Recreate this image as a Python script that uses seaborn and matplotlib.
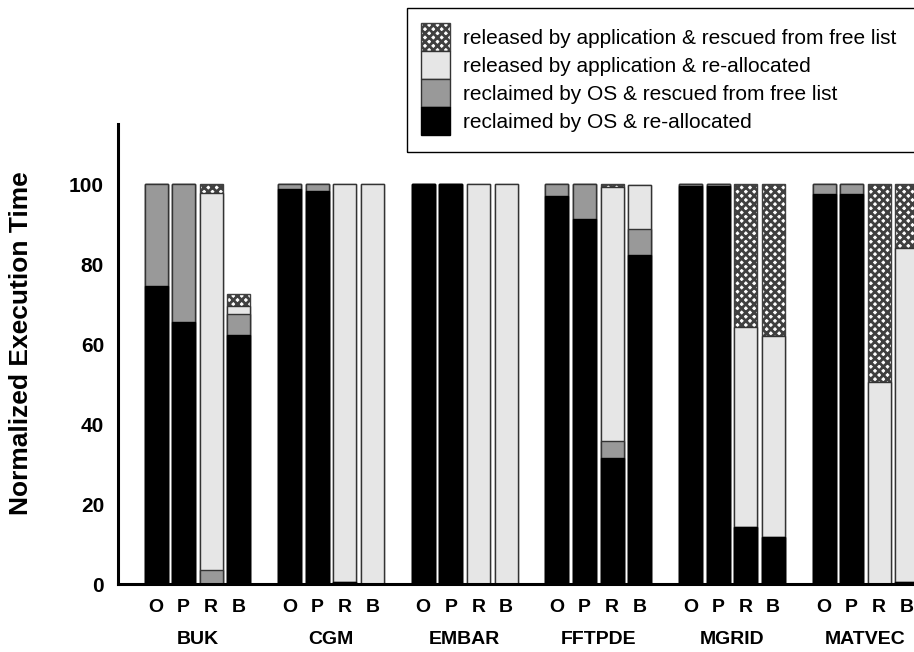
import matplotlib
matplotlib.use("Agg")
import matplotlib.pyplot as plt
import matplotlib.patches as mpatches
import matplotlib.transforms as mtransforms
import numpy as np
import pandas as pd
import seaborn as sns

# Benchmarks and allocation schemes
benchmarks = ["BUK", "CGM", "EMBAR", "FFTPDE", "MGRID", "MATVEC"]
schemes = ["O", "P", "R", "B"]

# Normalized execution time components, one value per (benchmark, scheme)
reclaimed_realloc = [74.5, 65.6, 0.0, 62.2,
                     98.7, 98.2, 0.5, 0.0,
                     100.0, 100.0, 0.0, 0.0,
                     97.1, 91.2, 31.5, 82.2,
                     99.6, 99.4, 14.2, 11.8,
                     97.5, 97.4, 0.0, 0.5]
reclaimed_rescued = [25.5, 34.4, 3.5, 5.2,
                     1.3, 1.8, 0.0, 0.0,
                     0.0, 0.0, 0.0, 0.0,
                     2.9, 8.8, 4.3, 6.5,
                     0.4, 0.6, 0.0, 0.0,
                     2.5, 2.6, 0.0, 0.0]
released_realloc = [0.0, 0.0, 94.3, 2.2,
                    0.0, 0.0, 99.5, 100.0,
                    0.0, 0.0, 100.0, 100.0,
                    0.0, 0.0, 63.5, 11.0,
                    0.0, 0.0, 50.1, 50.2,
                    0.0, 0.0, 50.5, 83.5]
released_rescued = [0.0, 0.0, 2.2, 2.8,
                    0.0, 0.0, 0.0, 0.0,
                    0.0, 0.0, 0.0, 0.0,
                    0.0, 0.0, 0.7, 0.0,
                    0.0, 0.0, 35.7, 38.0,
                    0.0, 0.0, 49.5, 16.0]

legend_labels = ["released by application & rescued from free list",
                 "released by application & re-allocated",
                 "reclaimed by OS & rescued from free list",
                 "reclaimed by OS & re-allocated"]

sns.set_theme(style="white")
plt.rcParams["font.family"] = ["Liberation Sans", "DejaVu Sans"]
plt.rcParams["hatch.linewidth"] = 2.0
for key in ["text.color", "axes.labelcolor", "xtick.color", "ytick.color"]:
    plt.rcParams[key] = "black"

GROUP_STEP = 4.84
pos = [g * GROUP_STEP + i for g in range(len(benchmarks)) for i in range(len(schemes))]

df = pd.DataFrame({
    "pos": pos,
    "benchmark": np.repeat(benchmarks, len(schemes)),
    "scheme": schemes * len(benchmarks),
    "l1": reclaimed_realloc,
    "l2": reclaimed_rescued,
    "l3": released_realloc,
    "l4": released_rescued,
})
df["c1"] = df["l1"]
df["c2"] = df["c1"] + df["l2"]
df["c3"] = df["c2"] + df["l3"]
df["c4"] = df["c3"] + df["l4"]

fig = plt.figure(figsize=(9.14, 6.52), dpi=100)
ax = fig.add_axes([118 / 914, 68 / 652, 796 / 914, 460 / 652])

EDGE = "#333333"
HATCH_EDGE = "#404040"
HATCH = "xxxx"
styles = [
    ("c4", dict(color="white", edgecolor=HATCH_EDGE, hatch=HATCH)),
    ("c3", dict(color="#e6e6e6", edgecolor=EDGE)),
    ("c2", dict(color="#999999", edgecolor=EDGE)),
    ("c1", dict(color="black", edgecolor="black")),
]
BAR_W = 0.833
for col, st in styles:
    sns.barplot(data=df, x="pos", y=col, native_scale=True, orient="x",
                width=BAR_W, saturation=1, errorbar=None, linewidth=1.0,
                ax=ax, **st)

ax.set_xlim(-1.377, 27.46)
ax.set_ylim(0, 115)
ax.set_yticks([0, 20, 40, 60, 80, 100])
ax.set_xticks(pos)
ax.set_xticklabels(schemes * len(benchmarks), fontsize=14, fontweight="bold")
for lbl in ax.get_yticklabels():
    lbl.set_fontsize(15)
    lbl.set_fontweight("bold")
ax.tick_params(axis="x", length=0, pad=11)
ax.tick_params(axis="y", direction="in", length=7, width=1, pad=10, colors="black")
ax.set_xlabel("")
ax.set_ylabel("")

for side in ["top", "right"]:
    ax.spines[side].set_visible(False)
for side in ["left", "bottom"]:
    ax.spines[side].set_linewidth(2.2)
    ax.spines[side].set_color("black")
ax.grid(False)

# Benchmark names under each group
trans = mtransforms.blended_transform_factory(ax.transData, fig.transFigure)
for g, name in enumerate(benchmarks):
    ax.text(g * GROUP_STEP + 1.5, 1 - 640 / 652, name, transform=trans,
            ha="center", va="center", fontsize=14, fontweight="bold")

fig.text(21 / 914, 1 - 343 / 652, "Normalized Execution Time", rotation=90,
         ha="center", va="center", fontsize=19, fontweight="bold")

# Legend with a box running off the right edge
handles = [
    mpatches.Patch(facecolor="white", edgecolor=HATCH_EDGE, hatch=HATCH, linewidth=1.0),
    mpatches.Patch(facecolor="#e6e6e6", edgecolor=EDGE, linewidth=1.0),
    mpatches.Patch(facecolor="#999999", edgecolor=EDGE, linewidth=1.0),
    mpatches.Patch(facecolor="black", edgecolor="black", linewidth=1.0),
]
fs = 15
fs_px = fs * 100 / 72
swatch_h = 28 / fs_px
fig.legend(handles, legend_labels, loc="upper left",
           bbox_to_anchor=(421 / 914, 1 - 23 / 652), frameon=False,
           fontsize=fs, handlelength=29 / fs_px,
           handleheight=(swatch_h - 0.245) / 0.65,
           handletextpad=13 / fs_px, labelspacing=0, borderpad=0, borderaxespad=0)
fig.add_artist(mpatches.Rectangle((407 / 914, 1 - 152 / 652), 530 / 914, 144 / 652,
                                  transform=fig.transFigure, fill=False,
                                  edgecolor="black", linewidth=1.0, clip_on=False))

fig.savefig("out.png", dpi=100)
